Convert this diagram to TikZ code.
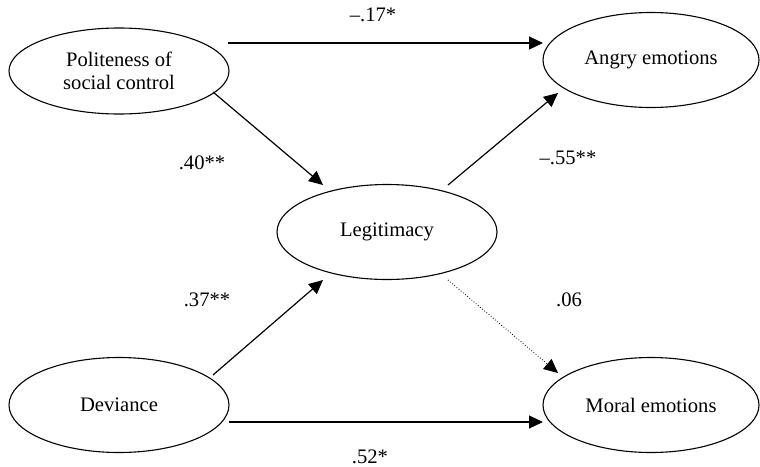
\documentclass[tikz,border=0pt]{standalone}
\usepackage{fontspec}
\setmainfont{Liberation Serif}
\usetikzlibrary{shapes.geometric,arrows.meta,calc}
\tikzset{
latent/.style={draw,ellipse,line width=0.55pt,inner sep=0pt,minimum width=110pt,minimum height=47.5pt,align=center,font=\fontsize{10.3}{11.5}\selectfont},
effect/.style={line width=0.6pt,-{Triangle[length=7pt,width=6.5pt]}},
weak/.style={effect,line width=0.4pt,densely dotted},
coef/.style={inner sep=0pt,font=\fontsize{10.3}{11.5}\selectfont}
}
\begin{document}
\begin{tikzpicture}[x=0.5pt,y=-0.5pt]
\useasboundingbox(0,0)rectangle(760,466);
% latent variables
\node[latent,minimum height=43pt](pol) at (119,71){Politeness of\\social control};
\node[latent,minimum width=108pt](ang) at (651,60){Angry emotions};
\node[latent](leg) at (387,232){Legitimacy};
\node[latent](dev) at (119,405){Deviance};
\node[latent,minimum width=108pt](mor) at (651,405){Moral emotions};
% paths
\draw[effect]($(pol)+(109,-28)$)--($(ang)+(-108,-17)$);
\draw[effect]($(pol)+(94,21)$)--($(leg)+(-64,-47)$);
\draw[effect]($(dev)+(94,-30)$)--($(leg)+(-64,48)$);
\draw[effect]($(leg)+(61,-47)$)--($(ang)+(-93,33)$);
\draw[weak]($(leg)+(61,48)$)--($(mor)+(-93,-32)$);
\draw[effect]($(dev)+(110,17)$)--($(mor)+(-108,17)$);
% coefficients
\foreach \kn/\kx/\ky/\klb in {pa/373/15/{\textendash.17*},pl/202/163/{.40**},la/568/158/{\textendash.55**},dl/207/300/{.37**},lm/569/300/{.06},dm/370/457/{.52*}}{\node[coef](c\kn) at (\kx,\ky){\klb};}
\end{tikzpicture}
\end{document}
